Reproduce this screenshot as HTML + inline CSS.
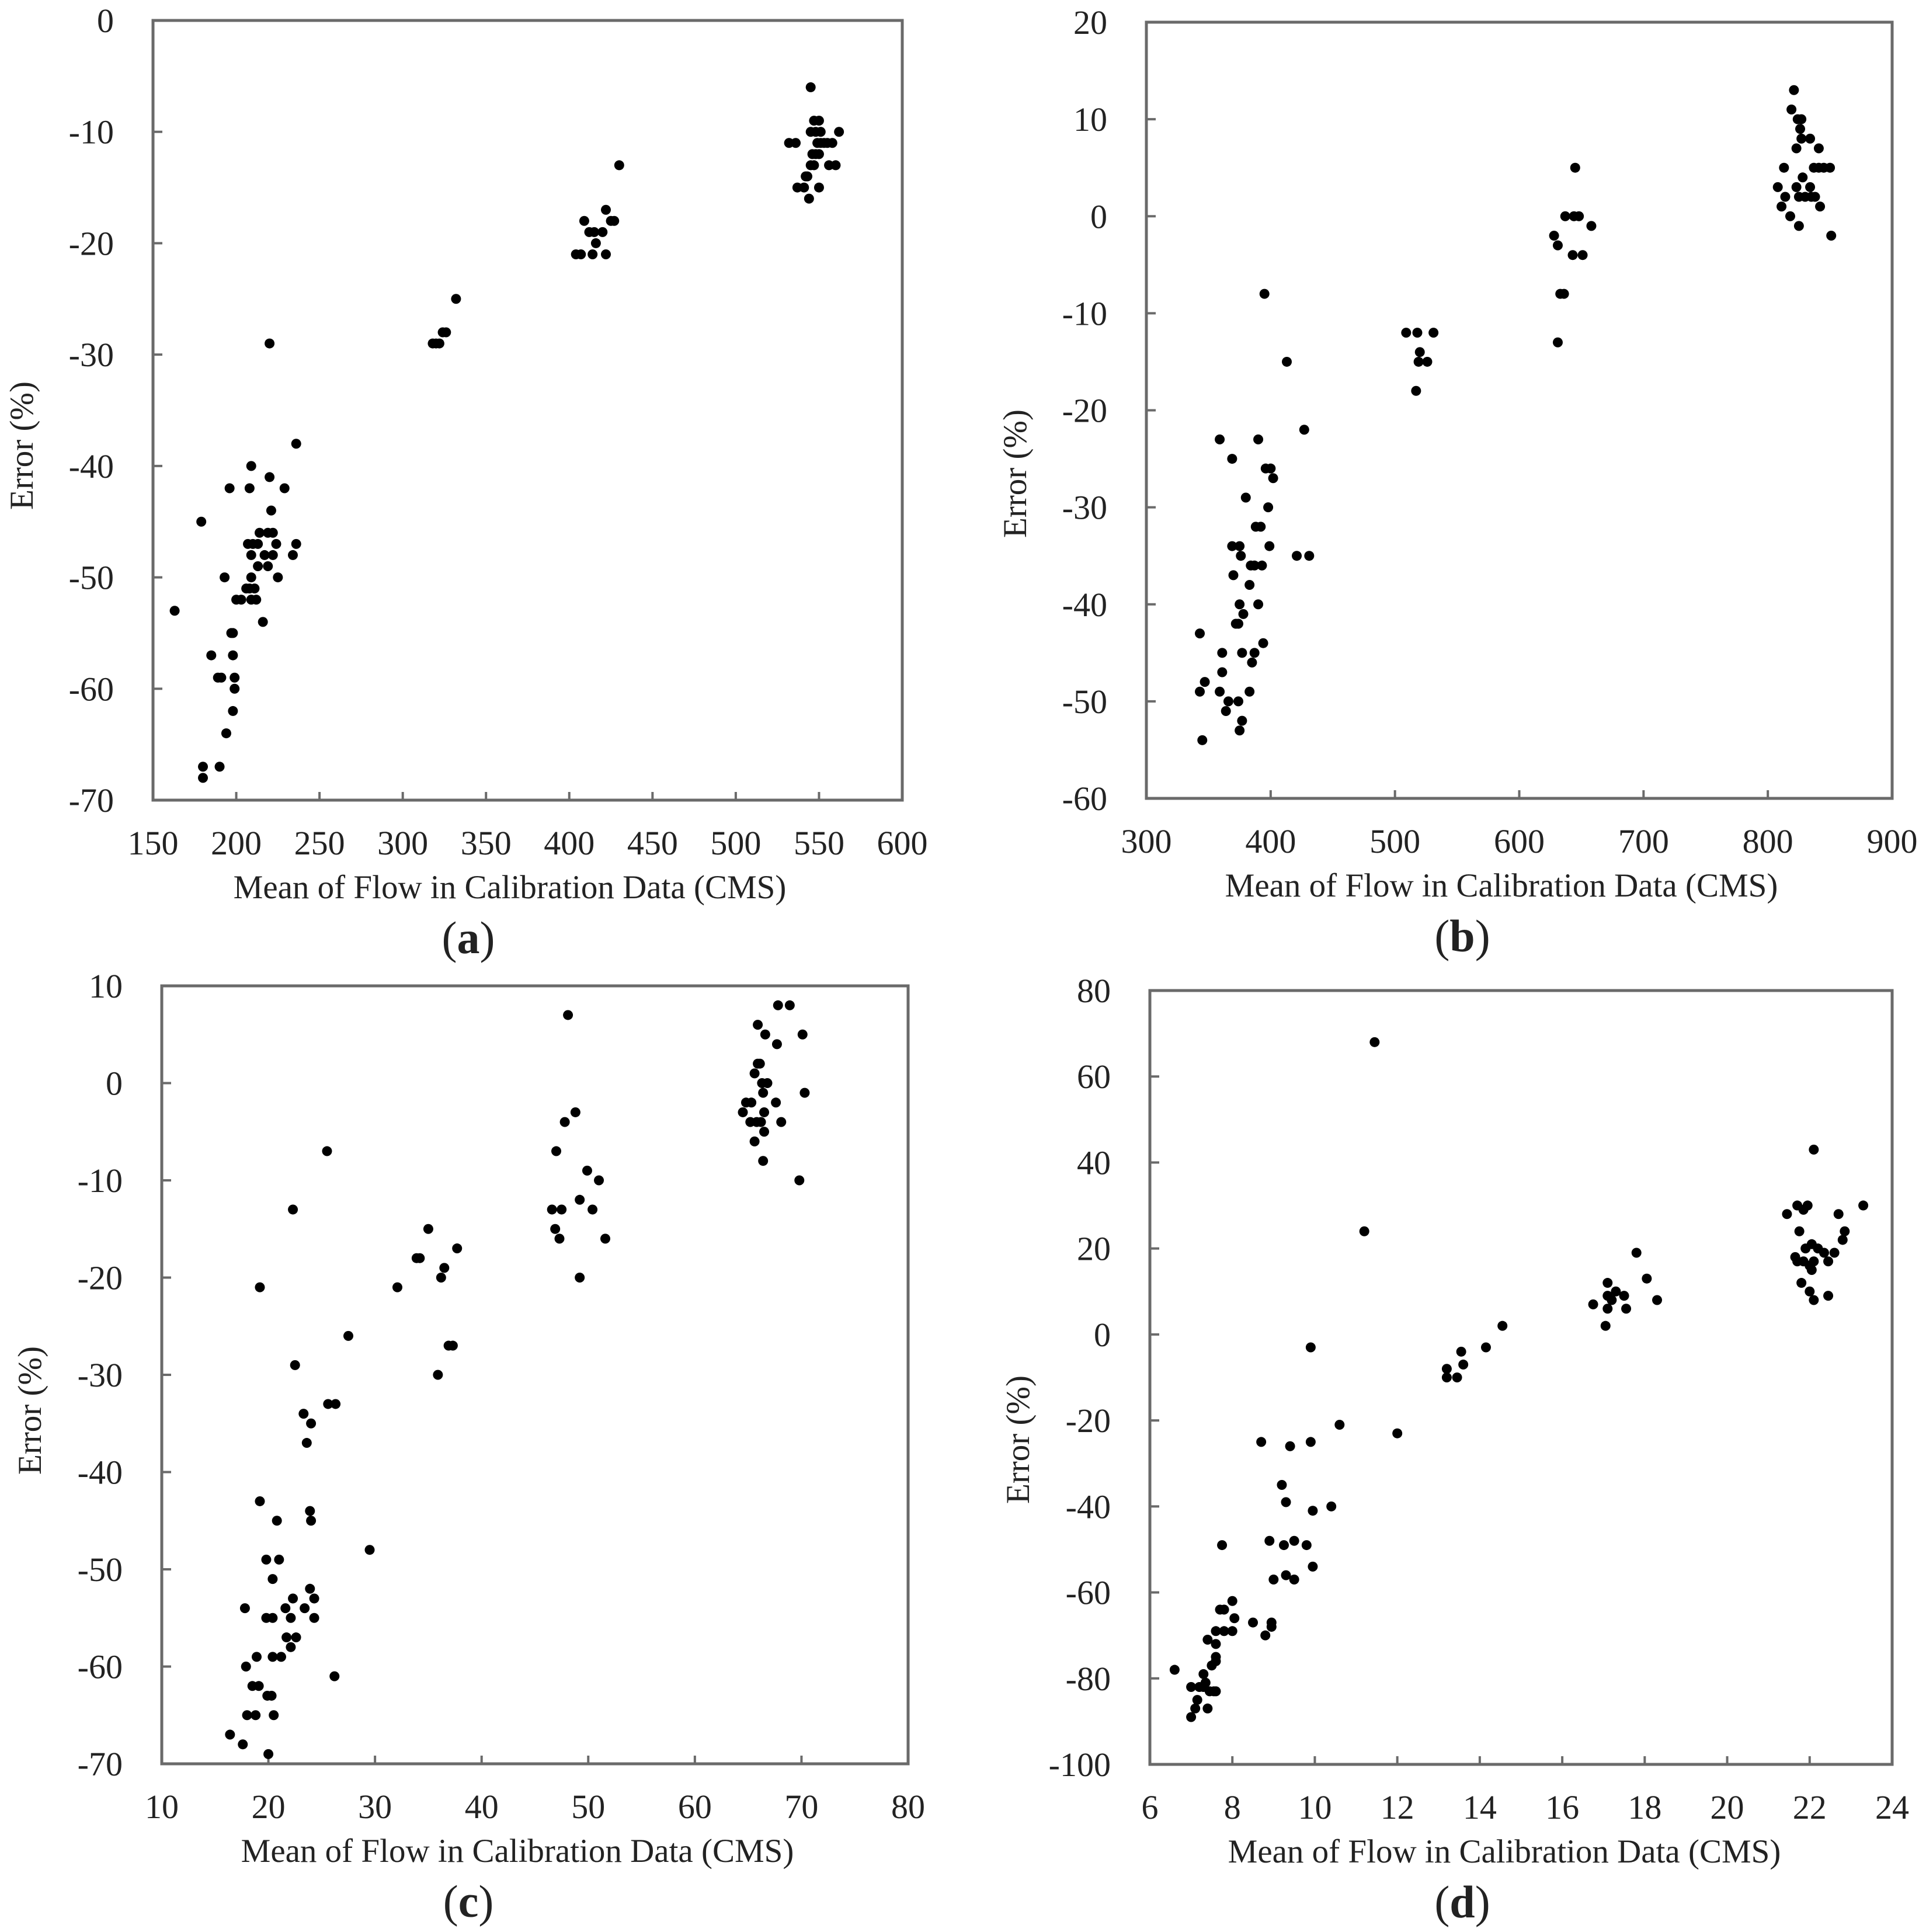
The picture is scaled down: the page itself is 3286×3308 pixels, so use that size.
<!DOCTYPE html>
<html><head><meta charset="utf-8"><style>
html,body{margin:0;padding:0;background:#fff;}
svg{display:block;}
text{font-family:"Liberation Serif","DejaVu Serif",serif;fill:#222;}
</style></head><body>
<svg id="fig" width="3286" height="3308" viewBox="0 0 3286 3308" xmlns="http://www.w3.org/2000/svg"></svg>
<script>
// Panel (a)
const aX=[163,179,180,180,185,189,190,191,193,194,196,197,198,198,198,199,199,200,203,206,207,208,209,208,209,209,209,210,211,212,213,213,214,216,217,219,219,220,220,221,222,222,224,225,229,234,236,236,318,320,322,324,326,332,404,407,409,412,414,415,416,420,422,422,425,427,430,532,536,537,541,542,543,544,545,545,545,546,547,547,548,548,549,550,550,550,551,551,553,555,556,558,560,562];
const aY=[-53,-45,-67,-68,-57,-59,-67,-59,-50,-64,-42,-55,-55,-57,-62,-59,-60,-52,-52,-51,-47,-42,-40,-51,-50,-48,-52,-47,-51,-52,-47,-49,-46,-54,-48,-49,-46,-41,-29,-44,-46,-48,-47,-50,-42,-48,-47,-38,-29,-29,-29,-28,-28,-25,-21,-21,-18,-19,-21,-19,-20,-19,-17,-21,-18,-18,-13,-11,-11,-15,-15,-14,-14,-16,-6,-13,-10,-12,-9,-13,-10,-12,-11,-12,-9,-15,-10,-11,-11,-11,-13,-11,-13,-10];
const aXTicks=[150,200,250,300,350,400,450,500,550,600];
const aYTicks=[0,-10,-20,-30,-40,-50,-60,-70];
// Panel (b)
const bX=[343,343,345,347,359,359,361,361,364,366,369,369,370,372,374,374,375,375,375,376,377,377,378,380,383,383,384,385,387,387,388,390,390,392,393,394,395,396,398,399,400,402,413,421,427,431,509,517,518,519,520,526,531,628,631,631,633,636,637,643,644,645,648,651,658,808,811,813,814,818,819,821,823,823,824,825,825,826,827,827,828,830,834,834,835,837,838,841,841,842,845,850,851];
const bY=[-43,-49,-54,-48,-23,-49,-45,-47,-51,-50,-25,-34,-37,-42,-42,-50,-53,-40,-34,-35,-45,-52,-41,-29,-38,-49,-36,-46,-45,-36,-32,-40,-23,-32,-36,-44,-8,-26,-30,-34,-26,-27,-15,-35,-22,-35,-12,-18,-12,-15,-14,-15,-12,-2,-3,-13,-8,-8,0,-4,0,5,0,-4,-1,3,1,5,2,0,11,13,3,7,10,2,-1,9,10,8,4,2,8,3,2,5,2,5,7,1,5,5,-2];
const bXTicks=[300,400,500,600,700,800,900];
const bYTicks=[20,10,0,-10,-20,-30,-40,-50,-60];
// Panel (c)
const cX=[16.4,17.6,17.8,17.9,18,18.5,18.8,18.9,19.1,19.2,19.2,19.8,19.8,19.9,20,20.3,20.4,20.4,20.4,20.5,20.8,21,21.2,21.6,21.7,22.1,22.1,22.3,22.3,22.5,22.6,23.3,23.4,23.6,23.9,23.9,24,24,24.3,24.3,25.5,25.6,26.3,26.2,27.5,29.5,32.1,33.9,34.2,35,35.9,36.2,36.5,36.9,37.3,37.7,46.6,46.9,47,47.3,47.5,47.8,48.1,48.8,49.2,49.2,49.9,50.4,51,51.6,64.5,64.8,65.2,65.3,65.6,65.6,65.8,65.9,65.9,66.1,66.2,66.3,66.4,66.4,66.5,66.5,66.6,66.8,67.6,67.7,67.8,68.1,68.9,69.8,70.1,70.3];
const cY=[-67,-68,-54,-60,-65,-62,-65,-59,-62,-43,-21,-55,-49,-63,-69,-63,-59,-55,-51,-65,-45,-49,-59,-54,-57,-58,-55,-53,-13,-29,-57,-34,-54,-37,-52,-44,-45,-35,-53,-55,-7,-33,-33,-61,-26,-48,-21,-18,-18,-15,-30,-20,-19,-27,-27,-17,-13,-15,-7,-16,-13,-4,7,-3,-12,-20,-9,-13,-10,-16,-3,-2,-4,-2,-6,1,-4,6,2,2,-4,0,-1,-8,-5,-3,5,0,-2,4,8,-4,8,-10,5,-1];
const cXTicks=[10,20,30,40,50,60,70,80];
const cYTicks=[10,0,-10,-20,-30,-40,-50,-60,-70];
// Panel (d)
const dX=[6.6,7,7,7.1,7.15,7.2,7.3,7.3,7.35,7.4,7.4,7.45,7.5,7.55,7.6,7.6,7.6,7.6,7.6,7.7,7.75,7.8,7.8,8,8,8.05,8.5,8.7,8.8,8.9,8.95,8.95,9.0,9.2,9.25,9.3,9.3,9.4,9.5,9.5,9.8,9.9,9.9,9.95,9.95,10.4,10.6,11.2,11.45,12,13.2,13.2,13.45,13.55,13.6,14.15,14.55,16.75,17.05,17.1,17.1,17.1,17.2,17.3,17.5,17.55,17.8,18.05,18.3,21.45,21.65,21.7,21.7,21.75,21.8,21.85,21.85,21.9,21.95,22,22,22.05,22.05,22.1,22.1,22.1,22.2,22.35,22.45,22.45,22.6,22.7,22.8,22.85,23.3];
const dY=[-78,-89,-82,-87,-85,-82,-82,-79,-81,-87,-71,-83,-77,-83,-76,-75,-72,-69,-83,-64,-49,-64,-69,-62,-69,-66,-67,-25,-70,-48,-68,-67,-57,-35,-49,-39,-56,-26,-48,-57,-49,-3,-25,-41,-54,-40,-21,24,68,-23,-8,-10,-10,-4,-7,-3,2,7,2,12,6,9,8,10,9,6,19,13,8,28,18,17,30,24,12,17,29,20,30,10,16,15,21,8,17,43,20,19,17,9,19,28,22,24,30];
const dXTicks=[6,8,10,12,14,16,18,20,22,24];
const dYTicks=[80,60,40,20,0,-20,-40,-60,-80,-100];

const NS="http://www.w3.org/2000/svg";
const svg=document.getElementById('fig');
function mk(tag,attrs,parent){const e=document.createElementNS(NS,tag);for(const k in attrs)e.setAttribute(k,attrs[k]);(parent||svg).appendChild(e);return e;}

const panels=[
 {id:'a',xs:aX,ys:aY,xt:aXTicks,yt:aYTicks,L:262,R:1545,T:35,B:1370,titleX:873,capX:802,yTitleX:56,yTitleY:763},
 {id:'b',xs:bX,ys:bY,xt:bXTicks,yt:bYTicks,L:1963,R:3240,T:38,B:1367,titleX:2571,capX:2504,yTitleX:1757,yTitleY:811},
 {id:'c',xs:cX,ys:cY,xt:cXTicks,yt:cYTicks,L:277,R:1555,T:1688,B:3020,titleX:886,capX:802,yTitleX:70,yTitleY:2415},
 {id:'d',xs:dX,ys:dY,xt:dXTicks,yt:dYTicks,L:1969,R:3240,T:1696,B:3021,titleX:2576,capX:2504,yTitleX:1762,yTitleY:2465}
];
panels.forEach(p=>{
  const g=mk('g',{});
  
  
  const x0=p.xt[0],x1=p.xt[p.xt.length-1],y0=p.yt[p.yt.length-1],y1=p.yt[0];
  const sx=v=>p.L+(v-x0)/(x1-x0)*(p.R-p.L);
  const sy=v=>p.B-(v-y0)/(y1-y0)*(p.B-p.T);
  const box=mk('rect',{x:p.L,y:p.T,width:p.R-p.L,height:p.B-p.T,fill:'none',stroke:'#6a6a6a','stroke-width':5},g);
  
  
  p.xt.forEach(t=>{
    const tk=mk('line',{x1:sx(t),x2:sx(t),y1:p.B,y2:p.B-14,stroke:'#6a6a6a','stroke-width':4},g);
    
    
    const e=mk('text',{x:sx(t),y:p.B+93,'font-size':58,'text-anchor':'middle'},g);
    e.textContent=t;
    
    
  });
  p.yt.forEach(t=>{
    const tk=mk('line',{x1:p.L,x2:p.L+16,y1:sy(t),y2:sy(t),stroke:'#6a6a6a','stroke-width':4},g);
    
    
    const e=mk('text',{x:p.L-67,y:sy(t)+20,'font-size':58,'text-anchor':'end'},g);
    e.textContent=t;
    
    
  });
  const xt=mk('text',{x:p.titleX,y:p.B+168,'font-size':57,'text-anchor':'middle'},g);
  xt.textContent='Mean of Flow in Calibration Data (CMS)';
  
  
  const yt=mk('text',{x:0,y:0,'font-size':57,'text-anchor':'middle',transform:'translate('+p.yTitleX+','+p.yTitleY+') rotate(-90)'},g);
  yt.textContent='Error (%)';
  
  
  const cap=mk('text',{x:p.capX,y:p.B+262,'font-size':78,'text-anchor':'middle'},g);
  cap.innerHTML='(<tspan font-weight="bold">'+p.id+'</tspan>)';
  
  
  p.xs.forEach((v,i)=>{
    const c=mk('circle',{cx:sx(v),cy:sy(p.ys[i]),r:8.5,fill:'#000'},g);
    
    
  });
});
</script>
</body></html>
